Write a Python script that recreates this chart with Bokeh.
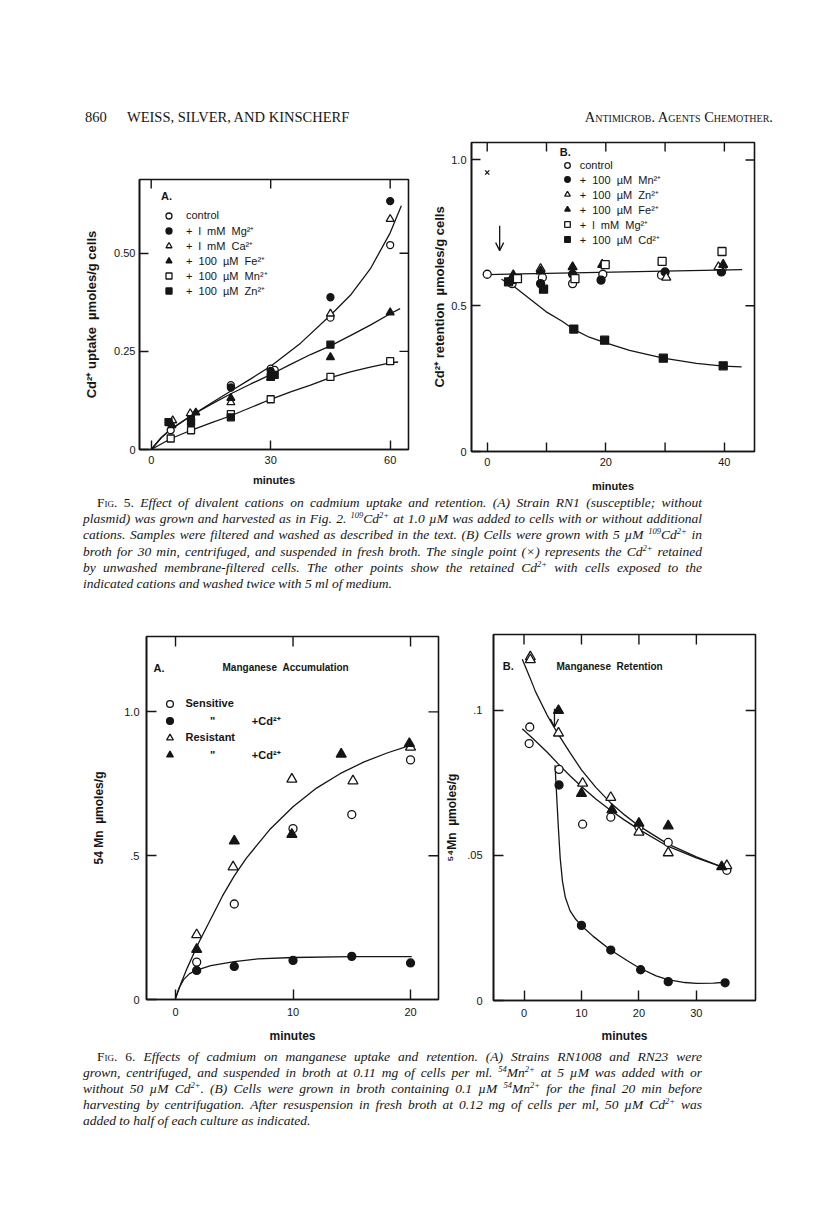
from bokeh.plotting import figure
from bokeh.models import (FixedTicker, Legend, LegendItem, Label,
                          Arrow, OpenHead, Div, Range1d)
from bokeh.layouts import column, row
from bokeh.embed import file_html
from bokeh.resources import INLINE

INK = "#151515"
SANS = "Liberation Sans"
NB = "\u00a0"

# ---------------- Fig. 5A : Cd2+ uptake (umoles/g cells) vs minutes ----------------
a_ctrl_x = [4.9, 10, 20, 30, 31, 45, 60]
a_ctrl_y = [0.049, 0.078, 0.164, 0.206, 0.203, 0.336, 0.521]
a_mg_x = [10, 20, 30, 45, 60]
a_mg_y = [0.086, 0.158, 0.200, 0.388, 0.633]
a_ca_x = [5.4, 9.8, 20, 45, 60]
a_ca_y = [0.074, 0.092, 0.120, 0.346, 0.587]
a_fe_x = [5.2, 11.2, 20, 30, 45, 60]
a_fe_y = [0.062, 0.094, 0.131, 0.183, 0.235, 0.349]
a_mn_x = [4.9, 10, 20, 30, 45, 60]
a_mn_y = [0.028, 0.049, 0.090, 0.128, 0.185, 0.225]
a_zn_x = [4.35, 10, 20, 30, 31, 45]
a_zn_y = [0.070, 0.070, 0.082, 0.185, 0.190, 0.267]
# hand-drawn curves
a_fit1_x = [0, 2.5, 5, 10, 15, 20, 25, 30, 37.5, 45, 50, 55, 60, 62.8]
a_fit1_y = [0, 0.030, 0.052, 0.086, 0.118, 0.149, 0.180, 0.212, 0.271, 0.342, 0.393, 0.460, 0.552, 0.621]
a_fit2_x = [0, 2.5, 5, 10, 15, 20, 25, 30, 35, 40, 45, 50, 55, 60, 62.5]
a_fit2_y = [0, 0.030, 0.052, 0.086, 0.115, 0.142, 0.167, 0.191, 0.217, 0.242, 0.264, 0.290, 0.317, 0.346, 0.359]
a_fit3_x = [0, 5, 10, 15, 20, 25, 30, 35, 40, 45, 50, 55, 60, 62]
a_fit3_y = [0, 0.028, 0.049, 0.068, 0.086, 0.107, 0.128, 0.147, 0.164, 0.183, 0.198, 0.210, 0.221, 0.223]
a_xticks = [0, 30, 60]
a_xlabels = ["0", "30", "60"]
a_yticks = [0, 0.25, 0.5]
a_ylabels = ["0", "0.25", "0.50"]

# ---------------- Fig. 5B : Cd2+ retention ----------------
b_ctrl_x = [0, 4.2, 9.3, 14.4, 19.5, 29.4, 39.6]
b_ctrl_y = [0.608, 0.576, 0.597, 0.576, 0.608, 0.605, 0.625]
b_mn_x = [4.5, 9.0, 14.4, 19.2, 30.0, 39.5]
b_mn_y = [0.590, 0.576, 0.608, 0.588, 0.616, 0.616]
b_zn_x = [4.3, 9.0, 30.2, 39.0]
b_zn_y = [0.600, 0.627, 0.597, 0.633]
b_fe_x = [4.4, 9.0, 14.4, 19.4, 39.8]
b_fe_y = [0.605, 0.618, 0.633, 0.641, 0.641]
b_mg_x = [5.1, 14.8, 19.9, 29.5, 39.6]
b_mg_y = [0.593, 0.593, 0.641, 0.652, 0.686]
b_cd_x = [3.6, 9.5, 14.6, 19.8, 29.7, 39.8]
b_cd_y = [0.582, 0.557, 0.420, 0.382, 0.320, 0.294]
b_unwashed_x = [0]
b_unwashed_y = [0.957]
b_fit_flat_x = [0, 43]
b_fit_flat_y = [0.607, 0.624]
b_fit_cd_x = [2.4, 4.2, 7.1, 9.9, 12.7, 14.5, 17.2, 20, 24, 29.7, 35.3, 39.8, 42.9]
b_fit_cd_y = [0.591, 0.571, 0.525, 0.480, 0.446, 0.420, 0.392, 0.373, 0.347, 0.320, 0.302, 0.293, 0.290]
b_arrow_x = 2.1
b_arrow_y = (0.774, 0.689)
b_xticks = [0, 20, 40]
b_xlabels = ["0", "20", "40"]
b_xticks_minor = [10, 30]
b_yticks = [0, 0.5, 1.0]
b_ylabels = ["0", "0.5", "1.0"]

# ---------------- Fig. 6A : Manganese accumulation ----------------
c_sens_x = [1.8, 5, 10, 15, 20]
c_sens_y = [0.130, 0.332, 0.594, 0.643, 0.833]
c_senscd_x = [1.8, 5, 10, 15, 20]
c_senscd_y = [0.101, 0.115, 0.136, 0.150, 0.127]
c_res_x = [1.8, 4.9, 9.9, 15.1, 20]
c_res_y = [0.225, 0.461, 0.766, 0.760, 0.877]
c_rescd_x = [1.8, 5, 9.9, 14.1, 19.9]
c_rescd_y = [0.174, 0.551, 0.574, 0.853, 0.890]
c_fit1_x = [0, 0.5, 1, 2, 3, 4, 5, 6, 8, 10, 12, 14, 16, 18, 20.1]
c_fit1_y = [0.004, 0.060, 0.110, 0.200, 0.280, 0.360, 0.430, 0.490, 0.590, 0.670, 0.735, 0.785, 0.825, 0.857, 0.885]
c_fit2_x = [0, 0.3, 0.7, 1.2, 1.8, 3, 5, 7, 10, 15, 20.1]
c_fit2_y = [0.004, 0.040, 0.070, 0.090, 0.102, 0.118, 0.132, 0.141, 0.146, 0.149, 0.149]
c_xticks = [0, 10, 20]
c_xlabels = ["0", "10", "20"]
c_yticks = [0, 0.5, 1.0]
c_ylabels = ["0", ".5", "1.0"]

# ---------------- Fig. 6B : Manganese retention ----------------
d_sens_x = [1.0, 0.9, 6.1, 10.2, 15.1, 20, 25.1, 35.3]
d_sens_y = [0.0943, 0.0886, 0.0797, 0.0608, 0.0632, 0.0598, 0.0545, 0.0449]
d_senscd_x = [6.1, 10, 15.1, 20.3, 25.1, 35]
d_senscd_y = [0.0743, 0.0259, 0.0174, 0.0106, 0.0065, 0.0061]
d_res_x = [1.1, 1.1, 6, 10.2, 15.1, 20, 25.1, 35.3]
d_res_y = [0.1185, 0.1175, 0.0922, 0.0749, 0.0700, 0.0580, 0.0509, 0.0465]
d_rescd_x = [6, 10, 15.3, 20, 25.1, 34.4]
d_rescd_y = [0.1000, 0.0714, 0.0657, 0.0611, 0.0602, 0.0461]
d_fit1_x = [-0.3, 1, 2, 3, 4, 5, 6, 8, 10, 12.5, 15, 17.5, 20, 25, 30, 34.3]
d_fit1_y = [0.1177, 0.1115, 0.1065, 0.1025, 0.0985, 0.0950, 0.0917, 0.0855, 0.0795, 0.0735, 0.0683, 0.0640, 0.0602, 0.0540, 0.0495, 0.0462]
d_fit2_x = [-0.3, 2, 4, 6, 8, 10, 12.5, 15, 17.5, 20, 25, 30, 34.3]
d_fit2_y = [0.0937, 0.0895, 0.0857, 0.0815, 0.0775, 0.0738, 0.0695, 0.0657, 0.0622, 0.0590, 0.0532, 0.0492, 0.0462]
d_fit3_x = [5.4, 5.7, 6.0, 6.3, 6.7, 7.2, 8.0, 9.0, 10, 12, 15, 18, 20, 23, 25, 28, 30, 33, 35]
d_fit3_y = [0.0811, 0.0700, 0.0589, 0.0490, 0.0410, 0.0355, 0.0310, 0.0280, 0.0258, 0.0222, 0.0175, 0.0137, 0.0113, 0.0085, 0.0072, 0.0062, 0.0059, 0.0060, 0.0063]
d_arrow_x = 5.3
d_arrow_y = (0.1006, 0.0943)
d_xticks = [0, 10, 20, 30]
d_xlabels = ["0", "10", "20", "30"]
d_yticks = [0, 0.05, 0.1]
d_ylabels = ["0", ".05", ".1"]


def panel(w, h, bl, br, bt, bb, xr, yr, xt, xl, yt, yl, xlab, ylab,
          tick=9, xstd=6, ystd=5, xlstd=8, ylstd=10, fs="11px", top_ticks=None,
          minor_bottom=(), lfs="11px", yfs="12px"):
    fw, fh = w - bl - br, h - bt - bb
    p = figure(width=w, height=h, x_range=Range1d(*xr), y_range=Range1d(*yr),
               min_border_left=bl, min_border_right=br, min_border_top=bt,
               min_border_bottom=bb, output_backend="svg", toolbar_location=None,
               margin=(0, 0, 0, 0))
    try:
        p.frame_align = False
    except Exception:
        pass
    p.grid.grid_line_color = None
    p.outline_line_color = INK
    p.outline_line_width = 1.6
    p.background_fill_color = "white"
    p.border_fill_color = "white"
    xa, ya = p.xaxis[0], p.yaxis[0]
    for ax, ticks, labels in ((xa, xt, xl), (ya, yt, yl)):
        ax.ticker = FixedTicker(ticks=ticks)
        ax.major_label_overrides = {t: s for t, s in zip(ticks, labels)}
        ax.major_tick_in = tick
        ax.major_tick_out = 0
        ax.minor_tick_line_color = None
        ax.axis_line_color = INK
        ax.axis_line_width = 1.6
        ax.major_tick_line_color = INK
        ax.major_tick_line_width = 1.4
        ax.major_label_text_font = SANS
        ax.major_label_text_font_size = fs
        ax.major_label_text_color = INK
        ax.axis_label_text_font = SANS
        ax.axis_label_text_font_style = "bold"
        ax.axis_label_text_color = INK
    xa.axis_label_text_font_size = lfs
    ya.axis_label_text_font_size = yfs
    xa.axis_label = xlab
    ya.axis_label = ylab
    xa.major_label_standoff = xstd
    ya.major_label_standoff = ystd
    xa.axis_label_standoff = xlstd
    ya.axis_label_standoff = ylstd
    # inward tick marks on the top and right frame edges (and unlabelled bottom ticks)
    dy = tick * (yr[1] - yr[0]) / fh
    dx = tick * (xr[1] - xr[0]) / fw
    tt = list(top_ticks) if top_ticks is not None else list(xt)
    ry = [t for t in yt if t > yr[0]]
    p.segment(x0=tt, y0=[yr[1]] * len(tt), x1=tt, y1=[yr[1] - dy] * len(tt),
              line_color=INK, line_width=1.4)
    p.segment(x0=[xr[1]] * len(ry), y0=ry, x1=[xr[1] - dx] * len(ry), y1=ry,
              line_color=INK, line_width=1.4)
    mb = list(minor_bottom)
    if mb:
        p.segment(x0=mb, y0=[yr[0]] * len(mb), x1=mb, y1=[yr[0] + dy] * len(mb),
                  line_color=INK, line_width=1.4)
    return p


def pts(p, x, y, marker, filled, size):
    return p.scatter(x, y, marker=marker, size=size, line_color=INK, line_width=1.3,
                     fill_color=INK if filled else "white")


def legend(p, items, loc, glyph, std, title=None, fs="11px", bold=False, tstd=5):
    leg = Legend(items=[LegendItem(label=l, renderers=[r]) for l, r in items],
                 location=loc, border_line_color=None, background_fill_alpha=0,
                 padding=0, margin=0, spacing=0, glyph_width=int(glyph), glyph_height=int(glyph),
                 label_height=int(glyph), label_standoff=int(std), label_text_font=SANS,
                 label_text_font_size=fs, label_text_color=INK,
                 label_text_font_style="bold" if bold else "normal")
    if title:
        leg.title = title
        leg.title_text_font = SANS
        leg.title_text_font_size = "11px"
        leg.title_text_font_style = "bold"
        leg.title_text_color = INK
        leg.title_standoff = int(tstd)
    p.add_layout(leg)
    return leg


def lab(p, x, y, text, size="11px", bold=True):
    p.add_layout(Label(x=x, y=y, text=text, text_font=SANS, text_font_size=size,
                       text_font_style="bold" if bold else "normal", text_color=INK,
                       text_baseline="middle", text_align="left"))


def plus(dose, ion):
    return "+" + NB * 2 + dose.replace(" ", NB * 2) + NB * 2 + ion


# ---------- Fig 5A ----------
pa = panel(412, 366, 131, 12, 51, 45, (-2.94, 64.6), (0, 0.688), a_xticks, a_xlabels,
           a_yticks, a_ylabels, "minutes", "Cd²⁺" + NB + "uptake" + NB * 2 + "µmoles/g" + NB + "cells",
           xstd=6, ystd=4, xlstd=7, ylstd=12, yfs="13px")
for fx, fy in ((a_fit1_x, a_fit1_y), (a_fit2_x, a_fit2_y), (a_fit3_x, a_fit3_y)):
    pa.line(fx, fy, line_color=INK, line_width=1.3)
ra1 = pts(pa, a_ctrl_x, a_ctrl_y, "circle", False, 7)
ra2 = pts(pa, a_mg_x, a_mg_y, "circle", True, 7)
ra3 = pts(pa, a_ca_x, a_ca_y, "triangle", False, 8)
ra4 = pts(pa, a_fe_x, a_fe_y, "triangle", True, 8)
ra5 = pts(pa, a_mn_x, a_mn_y, "square", False, 7)
ra6 = pts(pa, a_zn_x, a_zn_y, "square", True, 7)
legend(pa, [("control", ra1), (plus("l mM", "Mg²⁺"), ra2), (plus("l mM", "Ca²⁺"), ra3),
            (plus("100 µM", "Fe²⁺"), ra4), (plus("100 µM", "Mn²⁺"), ra5),
            (plus("100 µM", "Zn²⁺"), ra6)],
       (22, 151.5), 15, 10, title="A.", tstd=6, fs="11px")

# ---------- Fig 5B ----------
pb = panel(388, 366, 51, 54, 14, 39, (-2.65, 45.08), (0, 1.06), b_xticks, b_xlabels,
           b_yticks, b_ylabels, "minutes", "Cd²⁺" + NB + "retention" + NB * 2 + "µmoles/g" + NB + "cells",
           xstd=6, ystd=5, xlstd=11, ylstd=1, top_ticks=b_xticks + b_xticks_minor,
           minor_bottom=b_xticks_minor, yfs="13px")
pb.line(b_fit_flat_x, b_fit_flat_y, line_color=INK, line_width=1.3)
pb.line(b_fit_cd_x, b_fit_cd_y, line_color=INK, line_width=1.3)
rb1 = pts(pb, b_ctrl_x, b_ctrl_y, "circle", False, 8)
rb2 = pts(pb, b_mn_x, b_mn_y, "circle", True, 8)
rb3 = pts(pb, b_zn_x, b_zn_y, "triangle", False, 9)
rb4 = pts(pb, b_fe_x, b_fe_y, "triangle", True, 9)
rb5 = pts(pb, b_mg_x, b_mg_y, "square", False, 8)
rb6 = pts(pb, b_cd_x, b_cd_y, "square", True, 8)
pb.scatter(b_unwashed_x, b_unwashed_y, marker="x", size=6, line_color=INK, line_width=1.3)
pb.add_layout(Arrow(x_start=b_arrow_x, y_start=b_arrow_y[0], x_end=b_arrow_x, y_end=b_arrow_y[1],
                    line_color=INK, line_width=1.3,
                    end=OpenHead(size=8, line_color=INK, line_width=1.3)))
legend(pb, [("control", rb1), (plus("100 µM", "Mn²⁺"), rb2), (plus("100 µM", "Zn²⁺"), rb3),
            (plus("100 µM", "Fe²⁺"), rb4), (plus("l mM", "Mg²⁺"), rb5),
            (plus("100 µM", "Cd²⁺"), rb6)],
       (88.7, 204.5), 14, 6, title="B.", tstd=0, fs="11px")

# ---------- Fig 6A ----------
pc = panel(434, 440, 138, 4, 31, 44, (-2.47, 22.38), (0, 1.262), c_xticks, c_xlabels,
           c_yticks, c_ylabels, "minutes", "54 Mn" + NB * 2 + "µmoles/g",
           tick=10, xstd=8, ystd=7, xlstd=10, ylstd=15, lfs="12px")
pc.line(c_fit1_x, c_fit1_y, line_color=INK, line_width=1.3)
pc.line(c_fit2_x, c_fit2_y, line_color=INK, line_width=1.3)
rc1 = pts(pc, c_sens_x, c_sens_y, "circle", False, 8)
rc2 = pts(pc, c_senscd_x, c_senscd_y, "circle", True, 8)
rc3 = pts(pc, c_res_x, c_res_y, "triangle", False, 10)
rc4 = pts(pc, c_rescd_x, c_rescd_y, "triangle", True, 10)
ditto = NB * 8 + "\"" + NB * 12 + "+Cd²⁺"
legend(pc, [("Sensitive", rc1), (ditto, rc2), ("Resistant", rc3), (ditto, rc4)],
       (14.5, 236.5), 17, 8, bold=True)
lab(pc, -1.87, 1.151, "A.")
lab(pc, 4.0, 1.155, "Manganese" + NB + NB + "Accumulation", size="10px")

# ---------- Fig 6B ----------
pd_ = panel(366, 440, 47, 53, 29, 43, (-5.31, 40.29), (0, 0.1262), d_xticks, d_xlabels,
            d_yticks, d_ylabels, "minutes", "⁵⁴Mn" + NB * 2 + "µmoles/g",
            tick=10, xstd=8, ystd=11, xlstd=9, ylstd=5, lfs="12px")
pd_.line(d_fit1_x, d_fit1_y, line_color=INK, line_width=1.3)
pd_.line(d_fit2_x, d_fit2_y, line_color=INK, line_width=1.3)
pd_.line(d_fit3_x, d_fit3_y, line_color=INK, line_width=1.3)
pts(pd_, d_sens_x, d_sens_y, "circle", False, 8)
pts(pd_, d_senscd_x, d_senscd_y, "circle", True, 8)
pts(pd_, d_res_x, d_res_y, "triangle", False, 10)
pts(pd_, d_rescd_x, d_rescd_y, "triangle", True, 10)
pd_.add_layout(Arrow(x_start=d_arrow_x, y_start=d_arrow_y[0], x_end=d_arrow_x, y_end=d_arrow_y[1],
                     line_color=INK, line_width=1.3,
                     end=OpenHead(size=8, line_color=INK, line_width=1.3)))
lab(pd_, -3.7, 0.1154, "B.")
lab(pd_, 5.66, 0.1151, "Manganese" + NB + NB + "Retention", size="10px")

# ---------- texts ----------
SUP = '<sup style="font-size:8.5px;line-height:0;vertical-align:5px;">'


def s(t):
    return SUP + t + "</sup>"


def FIG(n):
    return ('<span style="font-style:normal;">F<span style="font-variant:small-caps;">ig</span>. '
            + n + '.</span> ')


cap5_lines = [
    FIG("5") + "Effect of divalent cations on cadmium uptake and retention. (A) Strain RN1 (susceptible; without",
    "plasmid) was grown and harvested as in Fig. 2. " + s("109") + "Cd" + s("2+") + " at 1.0 µM was added to cells with or without additional",
    "cations. Samples were filtered and washed as described in the text. (B) Cells were grown with 5 µM " + s("109") + "Cd" + s("2+") + " in",
    "broth for 30 min, centrifuged, and suspended in fresh broth. The single point (×) represents the Cd" + s("2+") + " retained",
    "by unwashed membrane-filtered cells. The other points show the retained Cd" + s("2+") + " with cells exposed to the",
    "indicated cations and washed twice with 5 ml of medium.",
]
cap6_lines = [
    FIG("6") + "Effects of cadmium on manganese uptake and retention. (A) Strains RN1008 and RN23 were",
    "grown, centrifuged, and suspended in broth at 0.11 mg of cells per ml. " + s("54") + "Mn" + s("2+") + " at 5 µM was added with or",
    "without 50 µM Cd" + s("2+") + ". (B) Cells were grown in broth containing 0.1 µM " + s("54") + "Mn" + s("2+") + " for the final 20 min before",
    "harvesting by centrifugation. After resuspension in fresh broth at 0.12 mg of cells per ml, 50 µM Cd" + s("2+") + " was",
    "added to half of each culture as indicated.",
]


def caption(lines, lh, pad):
    out = ['<div style="padding-top:%spx;padding-left:75px;width:694px;'
           'font-family:\'Liberation Serif\',serif;font-size:13.5px;font-style:italic;'
           'line-height:%spx;color:#151515;">' % (pad, lh)]
    for i, ln in enumerate(lines):
        last = i == len(lines) - 1
        st = "text-align:left;" if last else "text-align:justify;text-align-last:justify;"
        if i == 0:
            st += "text-indent:14px;"
        out.append('<div style="%s">%s</div>' % (st, ln))
    out.append("</div>")
    return "".join(out)


header_html = (
    '<div style="position:relative;width:800px;height:120px;font-family:\'Liberation Serif\',serif;'
    'font-size:14.5px;color:#151515;">'
    '<span style="position:absolute;left:77px;top:99px;">860</span>'
    '<span style="position:absolute;left:119px;top:99px;">WEISS, SILVER, AND KINSCHERF</span>'
    '<span style="position:absolute;right:35px;top:99px;font-variant:small-caps;">Antimicrob. Agents Chemother.</span>'
    '</div>')

header = Div(text=header_html, width=800, height=120, margin=(0, 0, 0, 0))
cap5 = Div(text=caption(cap5_lines, 16.2, 1), width=800, height=111, margin=(0, 0, 0, 0))
cap6 = Div(text=caption(cap6_lines, 16, 4), width=800, height=95, margin=(0, 0, 0, 0))

layout = column(header, row(pa, pb, spacing=0), cap5, row(pc, pd_, spacing=0), cap6,
                spacing=0, margin=(8, 0, 0, 8))

open("out.html", "w").write(file_html(layout, INLINE))
